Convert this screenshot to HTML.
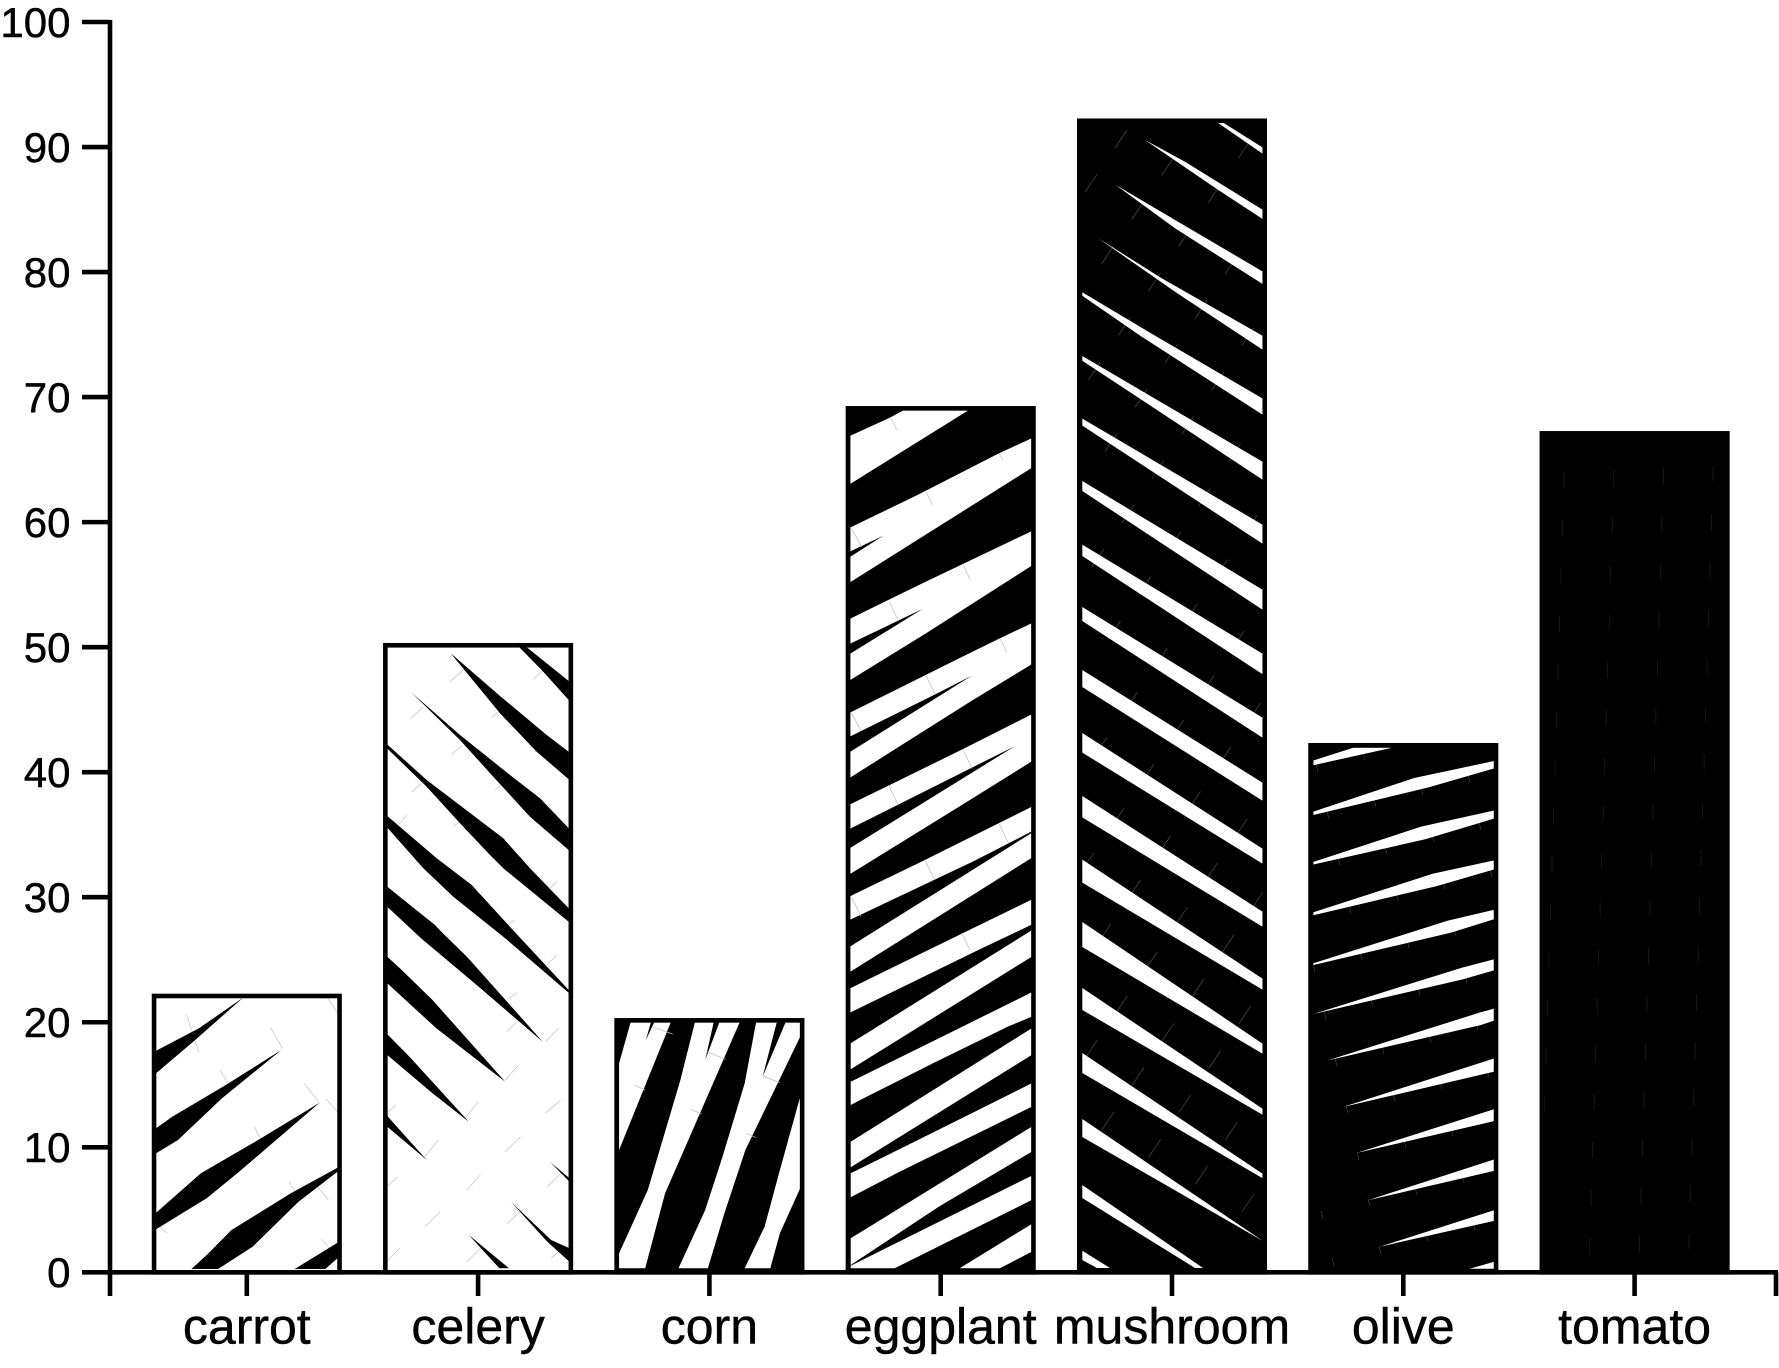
<!DOCTYPE html>
<html lang="en">
<head>
<meta charset="utf-8">
<title>Vegetable bar chart</title>
<style>
html,body{margin:0;padding:0;background:#fff;width:1779px;height:1368px;overflow:hidden;}
svg{display:block;}
text{font-family:"Liberation Sans",sans-serif;fill:#000;stroke:#000;stroke-width:0.45px;}
</style>
</head>
<body>
<svg id="chart" xmlns="http://www.w3.org/2000/svg" width="1779" height="1368" viewBox="0 0 1779 1368"></svg>
<script>
const categories = ['carrot','celery','corn','eggplant','mushroom','olive','tomato'];
const values = [22.1,50.15,20.15,69.1,92.1,42.15,67.1];
const yTickLabels = [0,10,20,30,40,50,60,70,80,90,100];

const Y0 = 1272.3, YUNIT = 12.503, XFIRST = 246.8, XSTEP = 231.3, BARW = 185.5, STROKE = 4.6;
const AXISL = 110, AXISR = 1776;
function yScale(v){ return Y0 - v * YUNIT; }
function xScale(i){ return XFIRST + XSTEP * i; }

/* Hand-traced hatch textures: polygons per bar, each frame maps traced coords to page pixels. */
const Z1 = [0,900,2.613,3], Z2 = [600,950,2.613,3], Z3 = [1200,700,2.708,2.347], Z5 = [360,620,3,3], Z6 = [840,390,3,2.8], Z8 = [1075,110,3,3], R = [0,0,1,1];
const mushroomStripes = [
  [356,4.7,462,18],[418.6,7,525,19],[481,10,590,20],[544.6,11.4,654,20.5],[607,14,718,20],
  [670,17,783,18],[733,19.6,849,15],[796,21.4,912,15],[859.6,23,979,11],[922,25,1044,10],
  [988,22,1109,6],[1053,20,1174,4.5],[1119,18,1241,0]
];
const hatches = {
  carrot:{base:'#fff',ink:'#000',frames:[[Z1,[
    [408,452,520,385,635,293,510,420,408,520],
    [408,685,450,650,590,555,735,450,580,595,465,720,408,760],
    [408,938,525,820,660,730,835,608,620,820,540,895,408,988],
    [500,1107,540,1065,605,990,760,880,882,803,882,815,780,905,660,1040,570,1107],
    [770,1107,882,1028,882,1075,850,1107]
  ]]],
  lines:[[Z1,[[487,343,520,458],[575,510,595,550],[707,383,738,445],[795,550,835,610],[665,680,680,715],[852,597,882,635],[755,845,775,885],[830,860,858,900],[413,975,437,1000],[842,1018,860,1045],[855,293,880,335]]]],lineColor:'#c4c4c4'},
  celery:{base:'#fff',ink:'#000',frames:[[Z5,[
    [478,82,500,82,626,183,626,240,545,150],
    [272,100,420,228,560,345,626,395,626,478,530,395,420,280],
    [155,218,300,345,450,465,540,535,626,625,626,690,510,590,400,470,300,360],
    [81,373,200,480,345,590,430,655,510,745,626,865,626,905,430,745,390,705,300,610,200,500,81,385],
    [81,587,230,715,335,795,440,910,626,1110,626,1118,430,950,280,830,190,745,81,622],
    [81,800,225,915,320,1020,443,1155,81,860]
  ]],[Z1,[
    [1012,-40,1135,75,1220,170,1418,425,1240,250,1100,115,1012,20],
    [1012,170,1045,205,1130,300,1320,545,1140,385,1012,250],
    [1012,403,1070,470,1225,665,1130,580,1012,465],
    [1012,648,1115,780,1012,680],
    [1437,785,1488,835,1488,845],
    [1335,905,1440,1020,1488,1045,1488,1085,1430,1025],
    [1225,1005,1330,1105,1305,1105]
  ]]],
  lines:[[Z1,[[1425,425,1460,385],[1320,540,1355,495],[1215,655,1250,605],[1110,770,1145,720],[1010,640,1035,615],[1325,395,1350,365],[1425,640,1465,600],[1320,755,1360,710],[1220,870,1255,825],[1110,980,1150,935],[1010,860,1040,830],[1430,860,1465,820],[1325,970,1365,930],[1220,1085,1260,1040],[1010,1085,1045,1045],[1440,1075,1480,1035]]],
  [Z5,[[270,185,310,150],[150,298,190,260],[395,292,425,268],[275,403,305,378],[155,515,185,490],[520,178,548,152],[525,395,555,370],[405,510,430,490],[118,612,140,585],[280,620,310,595],[160,733,185,710],[570,805,590,785],[440,915,465,900],[560,1035,590,1005],[445,1138,470,1118]]]],lineColor:'#c4c4c4'},
  corn:{base:'#000',ink:'#fff',frames:[[Z2,[
    [80,217,133,217,120,270,142,217,185,217,50,600,50,340],
    [248,217,297,217,275,330,312,217,365,217,280,440,170,730,118,955,50,955,50,910,125,720,210,390],
    [408,217,462,217,425,380,485,217,523,217,523,260,380,600,325,790,282,955,205,955,275,780,320,620,378,400],
    [523,440,523,715,470,850,445,955,378,955,430,830,470,660]
  ]]],
  lines:[[Z2,[[135,230,190,252],[280,305,328,328],[90,405,118,420],[238,478,265,492],[425,378,470,398],[382,550,408,563]]]],lineColor:'#bbb',linesOnTop:true},
  eggplant:{base:'#000',ink:'#fff',frames:[[Z6,[
    [31,128,155,75,190,57,385,57,31,263],
    [31,385,230,295,475,178,575,135,575,218,130,480,31,538,31,467,130,408,31,452],
    [31,640,250,540,575,395,575,492,260,680,31,812,31,738,248,613,31,710],
    [31,903,360,750,480,695,575,653,575,768,395,870,31,1085,31,1013,395,800,290,850,31,970],
    [31,1160,370,1005,575,908,575,1040,360,1165,31,1355,31,1282,525,997,390,1060,31,1228],
    [31,1417,250,1318,575,1167,575,1236,400,1320,31,1483],
    [31,1558,575,1240,575,1310,31,1629],
    [31,1675,265,1568,575,1427,575,1497,415,1568,31,1743]
  ]],[Z2,[
    [655,280,1128,-59,1128,20,655,358],
    [655,395,850,285,1128,127,1128,200,1065,230,870,340,680,450,655,465],
    [655,575,1128,235,1128,315,655,652],
    [655,670,945,505,1128,400,1128,470,775,670,655,742],
    [655,865,1128,530,1128,605,885,770,655,945],
    [655,947,1128,677,1128,750,770,955,655,955],
    [940,955,1128,822,1128,905,1045,955]
  ]]],
  lines:[[Z6,[[152,78,170,112],[258,285,278,322],[478,178,488,196],[35,388,65,440],[370,490,390,530],[148,592,176,648],[480,695,500,735],[258,800,285,850],[35,905,63,955],[368,1005,396,1060],[148,1110,175,1163],[478,1215,505,1268],[255,1318,283,1370],[35,1420,62,1473],[365,1520,390,1568]]]],lineColor:'#bbb',linesOnTop:true},
  mushroom:{base:'#000',ink:'#fff',frames:[[Z8,[
    [428,38,445,38,564,113,564,132],
    [210,90,330,155,564,300,564,328,430,240],
    [122,225,564,485,564,523,300,355],
    [70,385,260,505,564,678,564,720,300,545],
    [22,547,220,665,564,866,564,915,200,680,22,557]
  ]],[R,[
    [1082.3,1185,1203,1268,1195,1268,1082.3,1198],
    [1082.3,1250.7,1110,1268,1097,1268,1082.3,1260]
  ]]],
  stripes:mushroomStripes,
  lattice:{origin:[1115,148],a:[46.7,27.3],b:[-30,44.3],dash:[12,-18],color:'#444'}},
  olive:{base:'#000',ink:'#fff',frames:[[Z3,[
    [307,142,415,112,520,112,307,153],
    [307,262,580,183,798,143,798,160,620,205,307,270],
    [307,380,600,297,798,259,798,278,610,327,307,386],
    [307,498,630,408,798,376,798,397,640,437,307,505],
    [307,618,670,518,798,492,798,514,680,546,307,622],
    [307,737,710,628,798,608,798,634,710,656],
    [345,846,760,733,798,724,798,752,760,763],
    [388,955,798,841,798,872],
    [425,1063,798,960,798,988],
    [455,1174,798,1078,798,1105],
    [487,1283,798,1197,798,1222],
    [730,1335,798,1318,798,1335]
  ]]],
  lattice:{origin:[1316,764],a:[47,-12],b:[11,47],dash:[2,8],color:'#3a3a3a'}},
  tomato:{base:'#000',ink:'#fff',frames:[],
  lattice:{origin:[1555,760],a:[49.7,-2],b:[-1.5,48],dash:[0,16],color:'#1c1c1c'}}
};

const NS = 'http://www.w3.org/2000/svg';
const svg = document.getElementById('chart');
function el(tag, attrs, parent){
  const n = document.createElementNS(NS, tag);
  for (const k in attrs) n.setAttribute(k, attrs[k]);
  (parent || svg).appendChild(n);
  return n;
}
function mapPts(frame, pts){
  const out = [];
  for (let k = 0; k < pts.length; k += 2) {
    const px = frame[0] + pts[k] / frame[2];
    const py = Math.min(Y0, frame[1] + pts[k + 1] / frame[3]);
    out.push(px.toFixed(1) + ',' + py.toFixed(1));
  }
  return out.join(' ');
}
function drawLines(h, g, top){
  (h.lines || []).forEach(function(set){
    set[1].forEach(function(l){
      const a = mapPts(set[0], l).split(' ');
      const p = a[0].split(','), q = a[1].split(',');
      if (+p[1] < top && +q[1] < top) return;
      const t = el('line',{x1:p[0],y1:p[1],x2:q[0],y2:q[1],stroke:h.lineColor,'stroke-width':0.7}, g);
      
      
    });
  });
}
function drawLattice(h, g, left, right, top){
  const L = h.lattice;
  if (!L) return;
  for (let i = -14; i <= 14; i++) for (let j = -16; j <= 16; j++) {
    const x = L.origin[0] + i * L.a[0] + j * L.b[0];
    const y = L.origin[1] + i * L.a[1] + j * L.b[1];
    const x2 = x + L.dash[0], y2 = y + L.dash[1];
    if (Math.min(x, x2) < left || Math.max(x, x2) > right || Math.min(y, y2) < top || Math.max(y, y2) > Y0) continue;
    const t = el('line',{x1:x,y1:y,x2:x2,y2:y2,stroke:L.color,'stroke-width':0.8}, g);
    
    
  }
}

const defs = el('defs', {});
categories.forEach(function(cat, i){
  const cx = xScale(i), left = cx - BARW / 2, top = yScale(values[i]);
  const h = hatches[cat];
  const cp = el('clipPath', {id:'clip-' + cat}, defs);
  el('rect', {x:left, y:top, width:BARW, height:Y0 - top}, cp);

  const g = el('g', {});
  
  

  const bar = el('rect', {x:left, y:top, width:BARW, height:Y0 - top, fill:h.base}, g);
  
  

  const tex = el('g', {'clip-path':'url(#clip-' + cat + ')'}, g);
  
  
  drawLattice(h, tex, left, left + BARW, top);
  if (!h.linesOnTop) drawLines(h, tex, top);
  h.frames.forEach(function(fr){
    fr[1].forEach(function(poly){
      const s = el('polygon', {points:mapPts(fr[0], poly), fill:h.ink}, tex);
      
      
    });
  });
  (h.stripes || []).forEach(function(st){
    const lx = 1082.3, rx = 1263;
    const pts = lx + ',' + st[0] + ' ' + rx + ',' + st[2] + ' ' + rx + ',' + (st[2] + st[3]) + ' ' + lx + ',' + (st[0] + st[1]);
    const s = el('polygon', {points:pts, fill:h.ink}, tex);
    
    
  });
  if (h.linesOnTop) drawLines(h, tex, top);

  const outline = el('rect', {x:left, y:top, width:BARW, height:Y0 - top, fill:'none', stroke:'#000', 'stroke-width':STROKE}, g);
  
  
});

const yAxis = el('g', {});


const yLine = el('line', {x1:AXISL, x2:AXISL, y1:yScale(100) - 2, y2:Y0 + 2, stroke:'#000', 'stroke-width':STROKE}, yAxis);


yTickLabels.forEach(function(v){
  const y = yScale(v);
  const t = el('line', {x1:82, x2:AXISL, y1:y, y2:y, stroke:'#000', 'stroke-width':STROKE}, yAxis);
  
  
  const lab = el('text', {x:70.5, y:y + 14.8, 'text-anchor':'end', 'font-size':42}, yAxis);
  lab.textContent = String(v);
  
  
});

const xAxis = el('g', {});


const xLine = el('line', {x1:AXISL - 2, x2:AXISR + 2, y1:Y0, y2:Y0, stroke:'#000', 'stroke-width':STROKE}, xAxis);


const endL = el('line', {x1:AXISL, x2:AXISL, y1:Y0, y2:1296, stroke:'#000', 'stroke-width':STROKE}, xAxis);


const endR = el('line', {x1:AXISR, x2:AXISR, y1:Y0, y2:1296, stroke:'#000', 'stroke-width':STROKE}, xAxis);


categories.forEach(function(cat, i){
  const cx = xScale(i);
  const t = el('line', {x1:cx, x2:cx, y1:Y0, y2:1296, stroke:'#000', 'stroke-width':STROKE}, xAxis);
  
  
  const lab = el('text', {x:cx, y:1343.3, 'text-anchor':'middle', 'font-size':50}, xAxis);
  lab.textContent = cat;
  
  
});
</script>
</body>
</html>
